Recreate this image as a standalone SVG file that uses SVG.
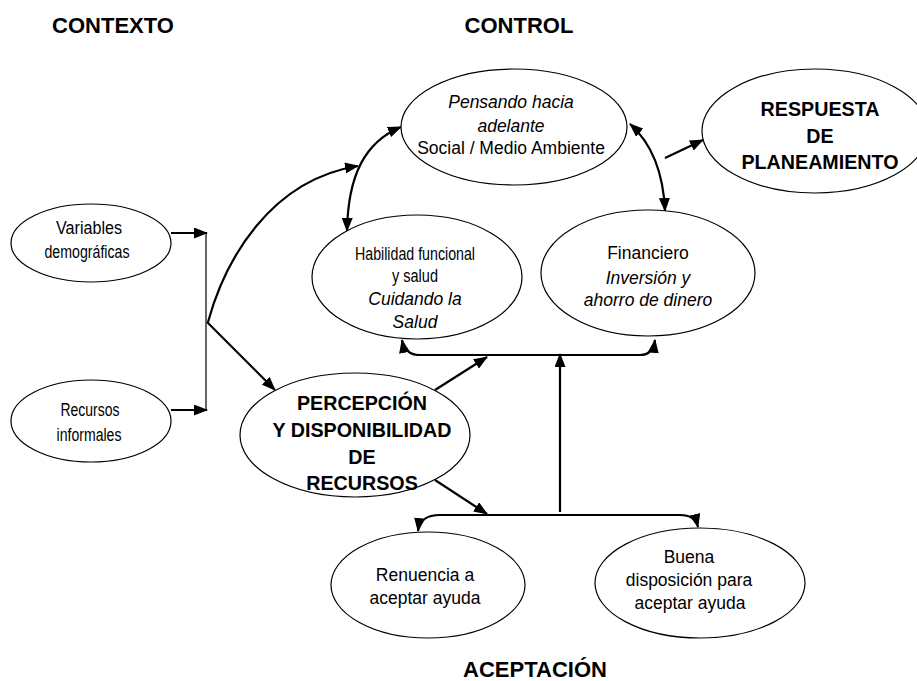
<svg xmlns="http://www.w3.org/2000/svg" width="917" height="681" viewBox="0 0 917 681">
<style>
.n{fill:#fff;stroke:#000;stroke-width:1.2}
.t{font-family:"Liberation Sans",Arial,sans-serif;font-size:17.5px;fill:#000;text-anchor:middle}
.i{font-style:italic}
.b{font-weight:bold;font-size:19.7px}
.h{font-family:"Liberation Sans",Arial,sans-serif;font-weight:bold;font-size:22px;fill:#000;text-anchor:middle}
.c{fill:none;stroke:#000;stroke-width:2.2}
.a{marker-end:url(#ah)}
.d{marker-start:url(#ah);marker-end:url(#ah)}
.thin{fill:none;stroke:#000;stroke-width:1.2}
</style>
<defs>
<marker id="ah" markerUnits="userSpaceOnUse" markerWidth="14" markerHeight="11" refX="13" refY="5.5" orient="auto-start-reverse" viewBox="0 0 14 11">
<path d="M0,0 L14,5.5 L0,11 Z" fill="#000"/>
</marker>
</defs>
<rect width="917" height="681" fill="#fff"/>
<g id="headers">
<text class="h" x="113" y="33">CONTEXTO</text>
<text class="h" x="519" y="33">CONTROL</text>
<text class="h" x="535" y="677">ACEPTACIÓN</text>
</g>
<g id="connectors">
<path class="c a" d="M208,322 C225,260 270,180 358,166"/>
<path class="c d" d="M401,127 C365,142 348,175 347,231"/>
<path class="c a" d="M207,322 L275,390"/>
<path class="c d" d="M630,124 C648,140 663,165 665,211"/>
<path class="c a" d="M665,158 L703,140"/>
<path class="c a" d="M435,390 L487,357"/>
<path class="c d" d="M402,340 Q405,355 420,355 L640,355 Q653,355 655,340"/>
<path class="c a" d="M560,512 L560,354"/>
<path class="c a" d="M435,480 L487,514"/>
<path class="c d" d="M418,531 Q420,515 440,515 L680,515 Q695,515 698,527"/>
<path class="c a" d="M171,233 L207,233"/>
<path class="c a" d="M171,410 L207,410"/>
<path class="thin" d="M206,233 L206,410"/>
</g>
<g id="pensando">
<ellipse class="n" cx="514" cy="127" rx="113" ry="58"/>
<text class="t i" x="511" y="108">Pensando hacia</text>
<text class="t i" x="511" y="132">adelante</text>
<text class="t" x="511" y="154">Social / Medio Ambiente</text>
</g>
<g id="respuesta">
<ellipse class="n" cx="815" cy="131" rx="113" ry="62"/>
<text class="t b" x="820" y="116">RESPUESTA</text>
<text class="t b" x="820" y="143">DE</text>
<text class="t b" x="820" y="169">PLANEAMIENTO</text>
</g>
<g id="habilidad">
<ellipse class="n" cx="417" cy="277" rx="105" ry="62"/>
<text class="t" x="415" y="260" textLength="120" lengthAdjust="spacingAndGlyphs">Habilidad funcional</text>
<text class="t" x="415" y="282" textLength="46" lengthAdjust="spacingAndGlyphs">y salud</text>
<text class="t i" x="415" y="305">Cuidando la</text>
<text class="t i" x="415" y="328">Salud</text>
</g>
<g id="financiero">
<ellipse class="n" cx="648" cy="273" rx="107" ry="63"/>
<text class="t" x="648" y="259">Financiero</text>
<text class="t i" x="648" y="284">Inversión y</text>
<text class="t i" x="648" y="306">ahorro de dinero</text>
</g>
<g id="variables">
<ellipse class="n" cx="91" cy="243" rx="80" ry="39"/>
<text class="t" x="89" y="234" textLength="66" lengthAdjust="spacingAndGlyphs">Variables</text>
<text class="t" x="87" y="258" textLength="85" lengthAdjust="spacingAndGlyphs">demográficas</text>
</g>
<g id="recursos">
<ellipse class="n" cx="91" cy="421" rx="80" ry="41"/>
<text class="t" x="90" y="416" textLength="59" lengthAdjust="spacingAndGlyphs">Recursos</text>
<text class="t" x="89" y="441" textLength="65" lengthAdjust="spacingAndGlyphs">informales</text>
</g>
<g id="percepcion">
<ellipse class="n" cx="355" cy="435" rx="115" ry="62"/>
<text class="t b" x="362" y="410">PERCEPCIÓN</text>
<text class="t b" x="362" y="437">Y DISPONIBILIDAD</text>
<text class="t b" x="362" y="464">DE</text>
<text class="t b" x="362" y="490">RECURSOS</text>
</g>
<g id="renuencia">
<ellipse class="n" cx="428" cy="585" rx="97" ry="53"/>
<text class="t" x="425" y="581">Renuencia a</text>
<text class="t" x="425" y="604">aceptar ayuda</text>
</g>
<g id="buena">
<ellipse class="n" cx="700" cy="583" rx="105" ry="55"/>
<text class="t" x="689" y="563">Buena</text>
<text class="t" x="689" y="586">disposición para</text>
<text class="t" x="690" y="609">aceptar ayuda</text>
</g>
</svg>
